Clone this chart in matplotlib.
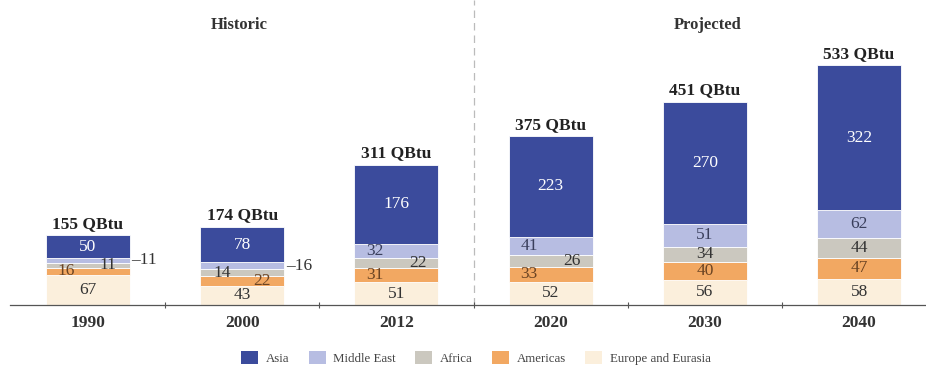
import numpy as np
import matplotlib
matplotlib.use("Agg")
import matplotlib.pyplot as plt
from matplotlib.patches import Patch

# ── Data (quadrillion Btu) ───────────────────────────────────────────────────
years = ["1990", "2000", "2012", "2020", "2030", "2040"]
regions = ["Asia", "Middle East", "Africa", "Americas", "Europe and Eurasia"]
europe = [67, 43, 51, 52, 56, 58]
americas = [16, 22, 31, 33, 40, 47]
africa = [11, 14, 22, 26, 34, 44]
middle_east = [11, 16, 32, 41, 51, 62]
asia = [50, 78, 176, 223, 270, 322]
totals = [155, 174, 311, 375, 451, 533]

# stacked bottom -> top
stack = [
    ("Europe and Eurasia", europe, "#fbefdc", "#333333"),
    ("Americas", americas, "#f2a862", "#6b4423"),
    ("Africa", africa, "#cbc8bf", "#333333"),
    ("Middle East", middle_east, "#b7bde2", "#3a3f5c"),
    ("Asia", asia, "#3b4b9c", "white"),
]

# label x-offsets (in bar units) for the thin segments; "out" = outside right
label_pos = {
    ("Americas", 0): -0.14, ("Africa", 0): 0.13, ("Middle East", 0): "out",
    ("Africa", 1): -0.13, ("Americas", 1): 0.13, ("Middle East", 1): "out",
    ("Middle East", 2): -0.14, ("Africa", 2): 0.14, ("Americas", 2): -0.14,
    ("Middle East", 3): -0.14, ("Africa", 3): 0.14, ("Americas", 3): -0.14,
}

serif = ["Liberation Serif", "DejaVu Serif"]
fig = plt.figure(figsize=(9.26, 3.74), dpi=100)
ax = fig.add_axes([10 / 926, 69 / 374, 916 / 926, 305 / 374])

x = np.arange(len(years))
width = 0.545
bottom = np.zeros(len(years))
for name, vals, color, tcolor in stack:
    vals = np.array(vals, dtype=float)
    ax.bar(x, vals, width, bottom=bottom, color=color, edgecolor="white",
           linewidth=0.6, zorder=2)
    for i, v in enumerate(vals):
        yc = bottom[i] + v / 2
        pos = label_pos.get((name, i), 0.0)
        if pos == "out":
            ax.text(x[i] + width / 2 + 0.01, yc, "\u2013" + f"{int(v)}",
                    ha="left", va="center", fontsize=12.5, family=serif,
                    color="#333333", zorder=4)
        else:
            ax.text(x[i] + pos, yc, f"{int(v)}", ha="center", va="center",
                    fontsize=12.5, family=serif, color=tcolor, zorder=4)
    bottom += vals

for i, t in enumerate(totals):
    ax.text(x[i], bottom[i] + 8, f"{t} QBtu", ha="center", va="bottom",
            fontsize=12.5, fontweight="bold", family=serif, color="#222222")

# historic / projected divider
ax.axvline(2.5, color="#bbbbbb", linestyle=(0, (6, 4)), linewidth=0.9, zorder=1)
ax.text(0.98, 622, "Historic", ha="center", va="center", fontsize=12,
        fontweight="bold", family=serif, color="#333333")
ax.text(4.02, 622, "Projected", ha="center", va="center", fontsize=12,
        fontweight="bold", family=serif, color="#333333")

ax.set_xlim(-0.506, 5.434)
ax.set_ylim(0, 678)
for s in ["top", "right", "left"]:
    ax.spines[s].set_visible(False)
ax.spines["bottom"].set_color("#555555")
ax.spines["bottom"].set_linewidth(0.9)
ax.set_yticks([])
ax.set_xticks(x[:-1] + 0.5)
ax.set_xticklabels([])
ax.tick_params(axis="x", direction="inout", length=5, color="#555555")
for i, yr in enumerate(years):
    ax.text(x[i], -23, yr, ha="center", va="top", fontsize=12.5,
            fontweight="bold", family=serif, color="#333333")

handles = [Patch(facecolor=c, edgecolor="none", label=n)
           for n, _, c, _ in reversed(stack)]
fig.legend(handles=handles, loc="center", bbox_to_anchor=(0.514, 0.043),
           ncol=5, frameon=False, prop={"family": serif, "size": 9.3},
           labelcolor="#444444", handlelength=1.3, handleheight=1.1,
           handletextpad=0.6, columnspacing=1.5)

fig.savefig("out.png", dpi=100)
